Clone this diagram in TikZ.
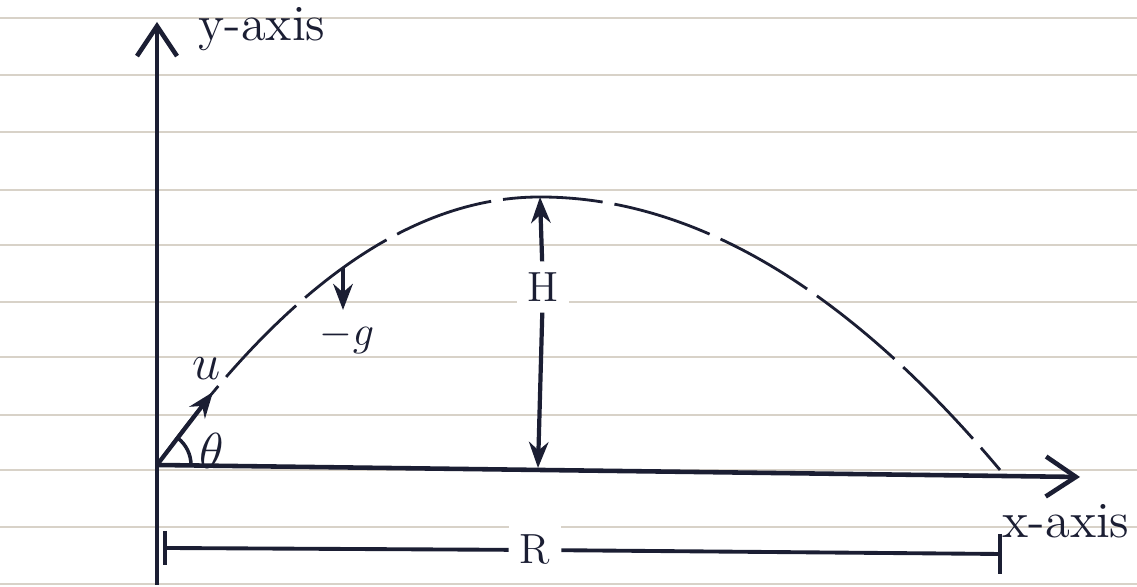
\documentclass[tikz,border=0pt]{standalone}
\usepackage{tikz}
\usetikzlibrary{arrows.meta, positioning, calc}
\definecolor{InkBlue}{HTML}{1B1E33}
\definecolor{RuleGray}{HTML}{D8D2C8}
\tikzset{
  ruled/.style={draw=RuleGray, line width=0.6pt},
  axis/.style={-{Straight Barb[length=3mm, width=4mm]}, line width=1.3pt, draw=InkBlue},
  path/.style={line width=0.8pt, draw=InkBlue, dash pattern=on 10mm off 1.2mm},
  arrow/.style={-{Stealth[length=2.6mm]}, line width=1.2pt, draw=InkBlue},
  dim/.style={line width=1.1pt, draw=InkBlue},
  label/.style={text=InkBlue, inner sep=1pt, font=\Large},
  hlabel/.style={text=InkBlue, fill=white, inner sep=3pt, font=\large}
}
\begin{document}
\begin{tikzpicture}
\useasboundingbox (0,0) rectangle (11.37,5.87);
% lined paper
\foreach \ry in {5.69,5.12,4.55,3.97,3.42,2.85,2.30,1.72,1.17,0.60,0.03}
  \draw[ruled] (0,\ry) -- (11.37,\ry);
% points of the flight
\coordinate (O) at (1.57,1.22);
\coordinate (ytop) at (1.57,5.65);
\coordinate (ybot) at (1.57,0.02);
\coordinate (xend) at (10.80,1.10);
\coordinate (apex) at (5.40,3.90);
\coordinate (foot) at (5.38,1.19);
\coordinate (land) at (10.00,1.17);
\coordinate (utip) at (2.13,1.95);
\coordinate (gtop) at (3.43,3.19);
\coordinate (gbot) at (3.43,2.77);
\coordinate (Rl) at (1.65,0.39);
\coordinate (Rr) at (10.00,0.33);
% axes
\draw[axis] (ybot) -- (ytop);
\draw[axis] (O) -- (xend);
\node[label] (ylab) at (2.62,5.58) {y-axis};
\node[label] (xlab) at (10.66,0.66) {x-axis};
% trajectory
\draw[path] (O) .. controls (2.85,3.01) and (4.12,3.90) .. (apex)
  .. controls (6.93,3.90) and (8.47,2.99) .. (land);
% launch velocity and angle
\draw[arrow] (O) -- (utip);
\node[label] (u) at (2.07,2.18) {$u$};
\draw[line width=1pt, draw=InkBlue] ($(O)+(0.34,0)$) arc[start angle=0, end angle=52, radius=0.34];
\node[label] (theta) at (2.12,1.36) {$\theta$};
% gravity
\draw[arrow] (gtop) -- (gbot);
\node[label, font=\large] (g) at (3.47,2.50) {$-g$};
% maximum height
\node[hlabel] (H) at (5.43,3.00) {H};
\draw[arrow] (H) -- (apex);
\draw[arrow] (H) -- (foot);
% range
\node[hlabel] (R) at (5.35,0.37) {R};
\draw[dim] (R) -- (Rl);
\draw[dim] (R) -- (Rr);
\draw[dim] ($(Rl)+(0,0.17)$) -- ($(Rl)+(0,-0.17)$);
\draw[dim] ($(Rr)+(0,0.2)$) -- ($(Rr)+(0,-0.2)$);
\end{tikzpicture}
\end{document}
